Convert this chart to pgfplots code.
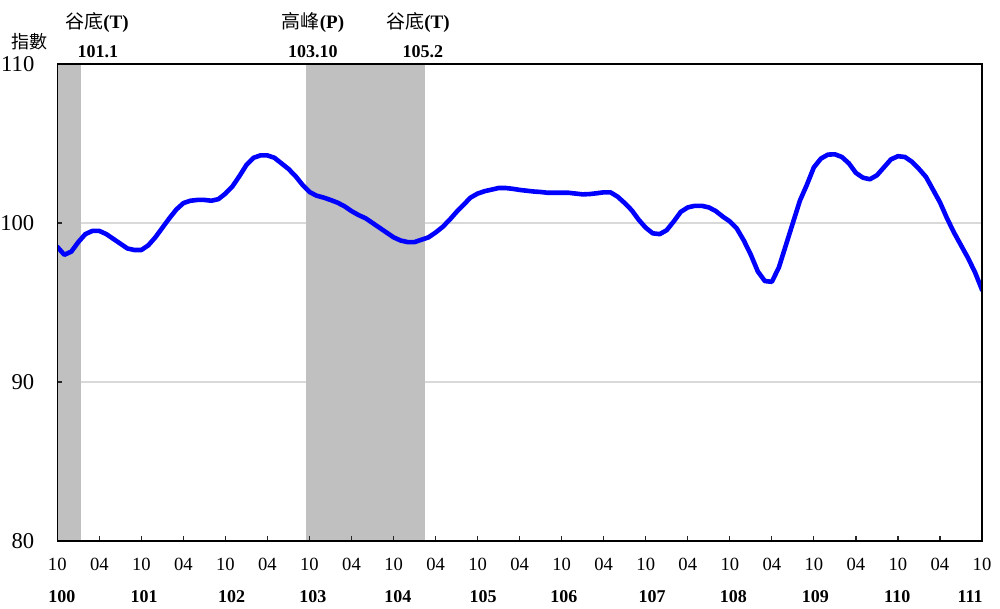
\documentclass[border=0pt]{standalone}
\usepackage{fontspec}
\setmainfont{Liberation Serif}
\newfontfamily\cjk{Noto Sans CJK TC}
\usepackage{pgfplots}
\usepackage{pgfplotstable}
\pgfplotsset{compat=1.18}
\definecolor{shade}{RGB}{192,192,192}
\definecolor{gridc}{RGB}{217,217,217}
\pgfplotsset{layers/mylayers/.define layer set={axis background,axis grid,main,axis ticks,axis lines,axis tick labels,axis descriptions,axis foreground}{/pgfplots/layers/standard}}

\pgfplotstableread{
m v
0 98.5
1 98.0
2 98.2
3 98.8
4 99.3
5 99.5
6 99.5
7 99.3
8 99.0
9 98.7
10 98.4
11 98.3
12 98.3
13 98.6
14 99.1
15 99.7
16 100.3
17 100.85
18 101.25
19 101.4
20 101.45
21 101.45
22 101.4
23 101.5
24 101.85
25 102.3
26 102.95
27 103.65
28 104.1
29 104.25
30 104.25
31 104.1
32 103.75
33 103.4
34 102.95
35 102.4
36 101.95
37 101.72
38 101.6
39 101.45
40 101.28
41 101.05
42 100.75
43 100.5
44 100.3
45 100.0
46 99.7
47 99.4
48 99.1
49 98.9
50 98.8
51 98.8
52 98.95
53 99.1
54 99.4
55 99.75
56 100.2
57 100.7
58 101.15
59 101.6
60 101.85
61 102.0
62 102.1
63 102.2
64 102.2
65 102.15
66 102.08
67 102.03
68 101.98
69 101.95
70 101.9
71 101.9
72 101.9
73 101.9
74 101.85
75 101.8
76 101.82
77 101.87
78 101.93
79 101.92
80 101.65
81 101.25
82 100.8
83 100.2
84 99.7
85 99.35
86 99.3
87 99.55
88 100.1
89 100.7
90 100.98
91 101.08
92 101.08
93 100.98
94 100.75
95 100.4
96 100.1
97 99.65
98 98.9
99 98.0
100 96.95
101 96.35
102 96.3
103 97.2
104 98.6
105 100.0
106 101.4
107 102.4
108 103.5
109 104.05
110 104.3
111 104.32
112 104.15
113 103.75
114 103.15
115 102.85
116 102.75
117 103.0
118 103.5
119 104.0
120 104.2
121 104.15
122 103.85
123 103.4
124 102.9
125 102.1
126 101.3
127 100.3
128 99.4
129 98.6
130 97.8
131 96.9
132 95.8
}\cidata

\begin{document}
\begin{tikzpicture}
\begin{axis}[
  at={(0pt,0pt)}, anchor=south west,
  scale only axis, width=462.35pt, height=238.5pt,
  set layers=mylayers,
  xmin=0, xmax=132, ymin=80, ymax=110,
  xtick={0,6,...,132},
  xticklabels={10,04,10,04,10,04,10,04,10,04,10,04,10,04,10,04,10,04,10,04,10,04,10},
  ytick={80,90,100,110},
  xtick pos=bottom, ytick pos=left,
  ymajorgrids, grid style={draw=gridc, line width=0.6pt},
  tick align=inside, major tick length=2.5pt,
  axis line style={black, line width=0.7pt},
  tick style={black!85, line width=0.6pt},
  /pgf/number format/assume math mode=true,
  xticklabel style={font=\fontsize{9.3}{10}\selectfont, inner sep=0pt, yshift=-8.5pt},
  yticklabel style={font=\fontsize{11.3}{12}\selectfont, inner sep=0pt, xshift=-11.3pt},
  clip=true,
]
\addplot[fill=shade, draw=none] coordinates {(0,110) (3.4,110)} \closedcycle;
\addplot[fill=shade, draw=none] coordinates {(35.5,110) (52.5,110)} \closedcycle;
\addplot[color={rgb,255:red,0;green,0;blue,255}, line width=2.3pt, line join=round, line cap=round] table[x=m,y=v] {\cidata};
\end{axis}
% year labels
\begin{scope}[font=\fontsize{9}{10}\selectfont\bfseries, inner sep=0pt]
\foreach \m/\t in {0.67/100,12.4/101,24.9/102,36.5/103,48.6/104,60.8/105,72.3/106,84.9/107,96.5/108,108.2/109,119.9/110,130.3/111}{
  \node at ({\m*3.50265pt},-28pt) {\t};
}
\end{scope}
% top annotations
\begin{scope}[inner sep=0pt]
\node[font=\fontsize{9.5}{11}\selectfont] at ({5.67*3.50265pt},259pt) {{\cjk 谷底}\textbf{(T)}};
\node[font=\fontsize{9}{10}\selectfont\bfseries] at ({5.8*3.50265pt},244.5pt) {101.1};
\node[font=\fontsize{9.5}{11}\selectfont] at ({36.5*3.50265pt},259pt) {{\cjk 高峰}\textbf{(P)}};
\node[font=\fontsize{9}{10}\selectfont\bfseries] at ({36.5*3.50265pt},244.5pt) {103.10};
\node[font=\fontsize{9.5}{11}\selectfont] at ({51.5*3.50265pt},259pt) {{\cjk 谷底}\textbf{(T)}};
\node[font=\fontsize{9}{10}\selectfont\bfseries] at ({52.2*3.50265pt},244.5pt) {105.2};
\node[font=\fontsize{9}{10}\selectfont] at (-13.65pt,249.5pt) {\cjk 指數};
\end{scope}
\path (-28.65pt,-34pt) rectangle (471.35pt,270.5pt);
\end{tikzpicture}
\end{document}
